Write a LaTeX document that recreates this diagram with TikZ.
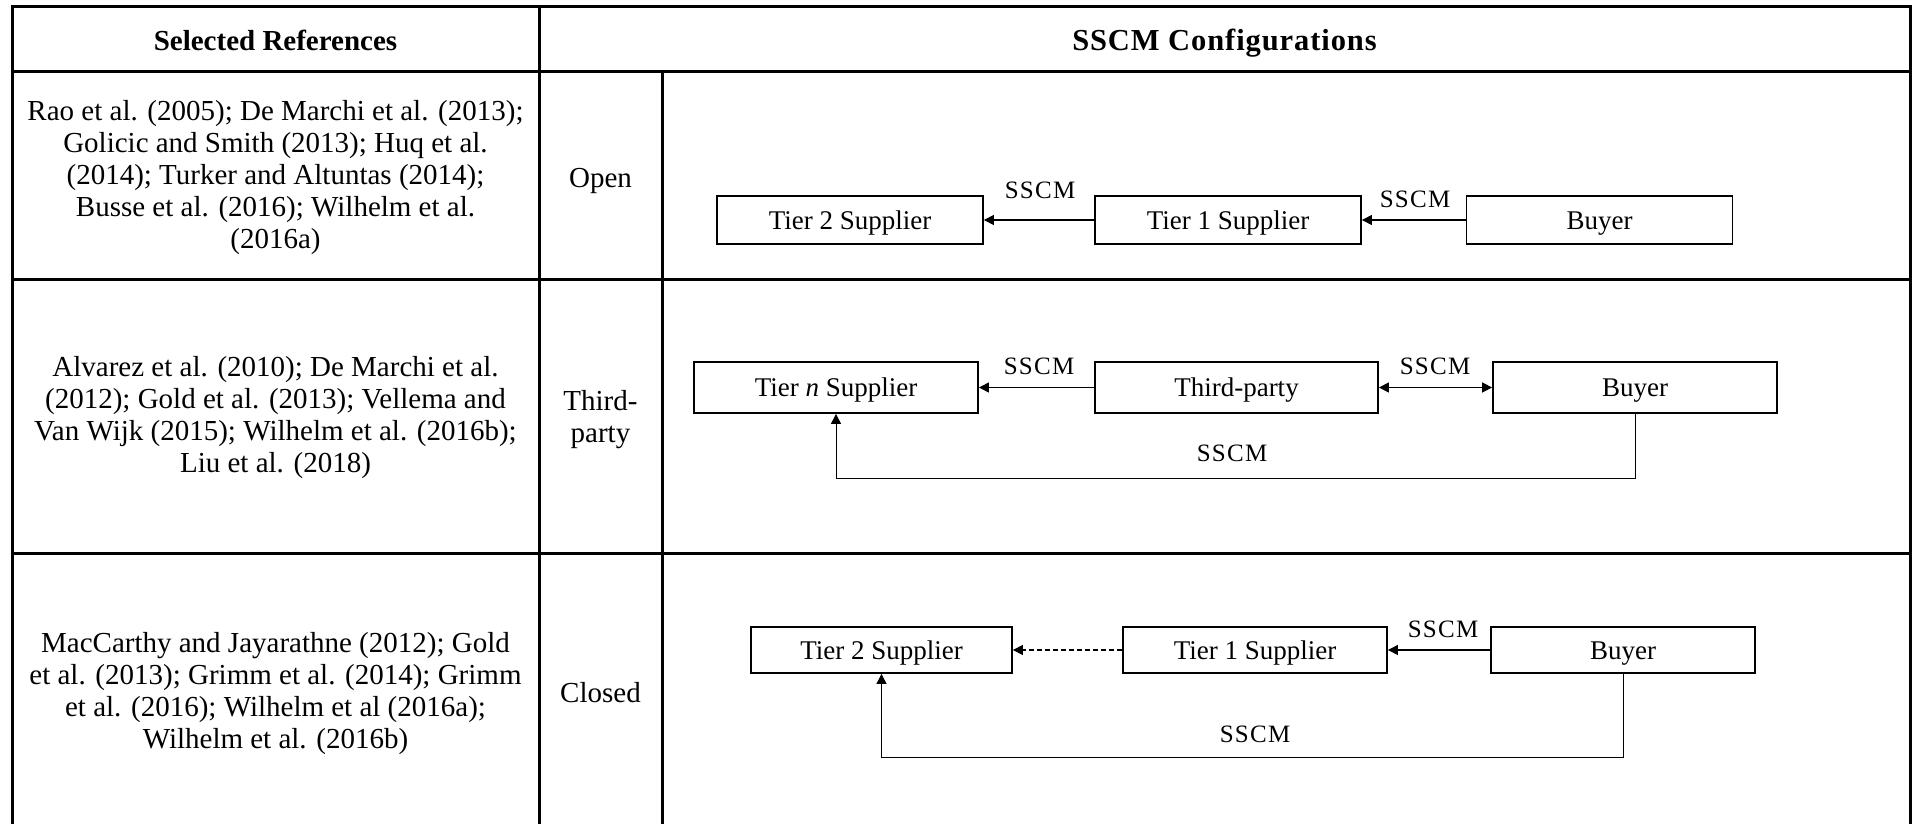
\documentclass[tikz,border=0pt]{standalone}
\usepackage{fontspec}
\setmainfont{Liberation Serif}
\newfontfamily\lblfont{Liberation Serif}[LetterSpace=5]
\newfontfamily\widehdr{Liberation Serif}[LetterSpace=3]
\usetikzlibrary{arrows.meta}
\begin{document}
\begin{tikzpicture}[x=1pt,y=-1pt,
  grid/.style={line width=3pt},
  cell/.style={align=center,font=\fontsize{29}{32}\selectfont,inner sep=0pt},
  single/.style={font=\fontsize{29}{32}\selectfont,inner sep=0pt,text height=19pt,text depth=0pt},
  hdr/.style={font=\fontsize{29}{32}\selectfont\bfseries,inner sep=0pt,text height=19pt,text depth=0pt},
  box/.style={draw,line width=1.8pt,font=\fontsize{27}{30}\selectfont,inner sep=0pt,text height=18pt,text depth=0pt},
  lbl/.style={font=\lblfont\fontsize{25}{28}\selectfont,inner sep=0pt,text height=17pt,text depth=0pt},
  conn/.style={line width=1.1pt,-{Triangle[length=10pt,width=10pt]}},
  conntwo/.style={line width=1.5pt,{Triangle[length=10pt,width=10pt]}-{Triangle[length=10pt,width=10pt]}},
  loopline/.style={line width=1pt,-{Triangle[length=10pt,width=10pt]}}]
\useasboundingbox (0,0) rectangle (1912,824);
% table grid
\draw[grid] (12,824) -- (12,7) -- (1910,7) -- (1910,824);
\draw[grid] (12,72) -- (1910,72);
\draw[grid] (12,279) -- (1910,279);
\draw[grid] (12,553) -- (1910,553);
\draw[grid] (539,7) -- (539,824);
\draw[grid] (662,72) -- (662,824);
% headers
\node[hdr] (h1) at (275.5,41) {Selected References};
\node[hdr] (h2) at (1224.5,41) {\widehdr\fontsize{30.5}{32}\selectfont\bfseries SSCM Configurations};
% reference cells
\node[cell] (ref1) at (275.5,178) {Rao et al. (2005); De Marchi et al. (2013);\\Golicic and Smith (2013); Huq et al.\\(2014); Turker and Altuntas (2014);\\Busse et al. (2016); Wilhelm et al.\\(2016a)};
\node[cell] (ref2) at (275.5,418) {Alvarez et al. (2010); De Marchi et al.\\(2012); Gold et al. (2013); Vellema and\\Van Wijk (2015); Wilhelm et al. (2016b);\\Liu et al. (2018)};
\node[cell] (ref3) at (275.5,694) {MacCarthy and Jayarathne (2012); Gold\\et al. (2013); Grimm et al. (2014); Grimm\\et al. (2016); Wilhelm et al (2016a);\\Wilhelm et al. (2016b)};
\node[single] (cfg1) at (600.5,178) {Open};
\node[cell] (cfg2) at (600.5,420) {Third-\\party};
\node[single] (cfg3) at (600.5,693) {Closed};
% row 1
\node[box,minimum width=266pt,minimum height=48pt] (a2) at (850,220) {Tier 2 Supplier};
\node[box,minimum width=266pt,minimum height=48pt] (a1) at (1228,220) {Tier 1 Supplier};
\node[box,minimum width=266pt,minimum height=48pt] (ab) at (1599.5,220) {Buyer};
\node[lbl] (la1) at (1040,190) {SSCM};
\node[lbl] (la2) at (1415,199) {SSCM};
\draw[conn] (a1.west) -- (a2.east);
\draw[conn] (ab.west) -- (a1.east);
% row 2
\node[box,minimum width=284pt,minimum height=51pt] (bn) at (836,387.5) {Tier \textit{n} Supplier};
\node[box,minimum width=283pt,minimum height=51pt] (bt) at (1236.5,387.5) {Third-party};
\node[box,minimum width=284pt,minimum height=51pt] (bb) at (1635,387.5) {Buyer};
\node[lbl] (lb1) at (1039,366) {SSCM};
\node[lbl] (lb2) at (1435,366) {SSCM};
\node[lbl] (lb3) at (1232,453) {SSCM};
\draw[conn] (bt.west) -- (bn.east);
\draw[conntwo] (bt.east) -- (bb.west);
\draw[loopline] (bb.south) -- ++(0,65) -| (bn.south);
% row 3
\node[box,minimum width=261pt,minimum height=46pt] (c2) at (881.5,650) {Tier 2 Supplier};
\node[box,minimum width=264pt,minimum height=46pt] (c1) at (1255,650) {Tier 1 Supplier};
\node[box,minimum width=264pt,minimum height=46pt] (cb) at (1623,650) {Buyer};
\node[lbl] (lc1) at (1443,629) {SSCM};
\node[lbl] (lc2) at (1255,734) {SSCM};
\draw[conn,dash pattern=on 5pt off 3pt] (c1.west) -- (c2.east);
\draw[conn] (cb.west) -- (c1.east);
\draw[loopline] (cb.south) -- ++(0,84) -| (c2.south);
\end{tikzpicture}
\end{document}
